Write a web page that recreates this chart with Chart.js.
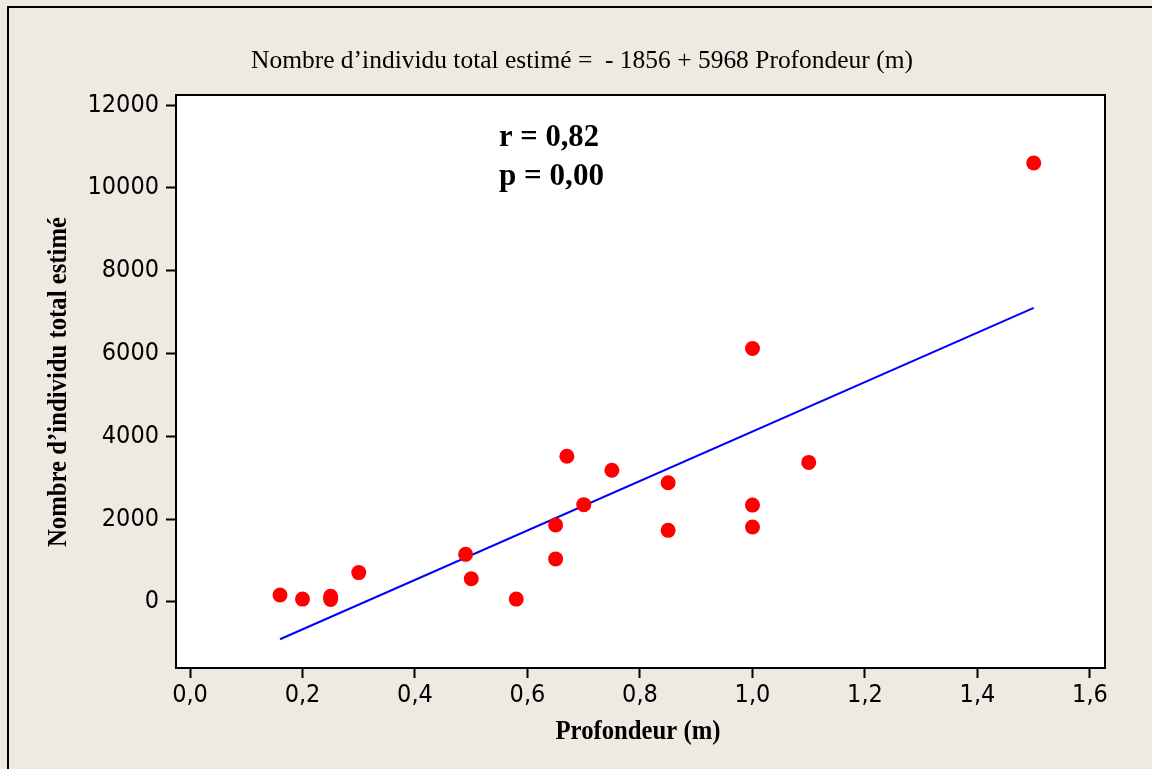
<!DOCTYPE html>
<html>
<head>
<meta charset="utf-8">
<script src="https://cdn.jsdelivr.net/npm/chart.js@4/dist/chart.umd.min.js"></script>
<style>
  html, body { margin: 0; padding: 0; background: #eeeae1; }
  canvas { display: block; }
</style>
</head>
<body>
<canvas id="chart" width="1152" height="769"></canvas>
<script>
// depth (m) vs estimated total individuals
const depth = [0.16, 0.2, 0.25, 0.25, 0.3, 0.49, 0.5, 0.58, 0.65, 0.65, 0.67, 0.7, 0.75, 0.85, 0.85, 1.0, 1.0, 1.0, 1.1, 1.5];
const total = [170, 70, 140, 60, 710, 1150, 560, 70, 1860, 1040, 3520, 2350, 3180, 2880, 1730, 6120, 2340, 1810, 3370, 10600];

// fitted line ends
const fitDepth = [0.16, 1.5];
const fitTotal = [-900, 7100];

const xTicks = [0, 0.2, 0.4, 0.6, 0.8, 1.0, 1.2, 1.4, 1.6];
const yTicks = [0, 2000, 4000, 6000, 8000, 10000, 12000];

const titleText = 'Nombre d’individu total estimé =  - 1856 + 5968 Profondeur (m)';
const xTitle = 'Profondeur (m)';
const yTitle = 'Nombre d’individu total estimé';
const statLines = ['r = 0,82', 'p = 0,00'];

const tickFont = { family: '"DejaVu Sans Condensed", "Liberation Sans", sans-serif', size: 25 };

const decorations = {
  id: 'decorations',
  beforeDraw(chart) {
    const { ctx, chartArea } = chart;
    ctx.save();
    ctx.fillStyle = '#eeeae1';
    ctx.fillRect(0, 0, chart.width, chart.height);
    // outer frame, top and left only
    ctx.fillStyle = '#000';
    ctx.fillRect(7, 6, chart.width - 7, 2);
    ctx.fillRect(7, 6, 2, chart.height - 6);
    ctx.fillStyle = '#fff';
    ctx.fillRect(chartArea.left, chartArea.top, chartArea.right - chartArea.left, chartArea.bottom - chartArea.top);
    ctx.restore();
  },
  afterDraw(chart) {
    const { ctx, chartArea } = chart;
    ctx.save();
    ctx.strokeStyle = '#000';
    ctx.lineWidth = 2;
    ctx.strokeRect(chartArea.left, chartArea.top, chartArea.right - chartArea.left, chartArea.bottom - chartArea.top);

    ctx.fillStyle = '#000';
    ctx.textBaseline = 'alphabetic';

    ctx.font = '26px "Liberation Serif", serif';
    ctx.textAlign = 'center';
    ctx.fillText(titleText, 582, 68, 662);

    ctx.font = 'bold 27px "Liberation Serif", serif';
    ctx.fillText(xTitle, 638, 739, 165);

    ctx.save();
    ctx.translate(66, 382);
    ctx.rotate(-Math.PI / 2);
    ctx.fillText(yTitle, 0, 0, 330);
    ctx.restore();

    ctx.font = 'bold 32px "Liberation Serif", serif';
    ctx.textAlign = 'left';
    ctx.fillText(statLines[0], 499, 146, 100);
    ctx.fillText(statLines[1], 499, 185, 105);
    ctx.restore();
  },
};

const points = depth.map((x, i) => ({ x, y: total[i] }));
const fitPoints = fitDepth.map((x, i) => ({ x, y: fitTotal[i] }));

new Chart(document.getElementById('chart'), {
  type: 'scatter',
  data: {
    datasets: [
      {
        data: points,
        pointRadius: 7.5,
        pointBackgroundColor: '#ff0000',
        pointBorderWidth: 0,
      },
      {
        data: fitPoints,
        showLine: true,
        pointRadius: 0,
        borderColor: '#0000ff',
        borderWidth: 2,
      },
    ],
  },
  options: {
    responsive: false,
    animation: false,
    devicePixelRatio: 1,
    layout: { padding: { top: 95, right: 47, left: 0, bottom: 0 } },
    plugins: { legend: { display: false }, tooltip: { enabled: false } },
    scales: {
      x: {
        type: 'linear',
        min: -0.0249,
        max: 1.6267,
        afterFit: (axis) => { axis.height = 101; },
        afterBuildTicks: (axis) => { axis.ticks = xTicks.map((value) => ({ value })); },
        ticks: {
          autoSkip: false,
          maxRotation: 0,
          color: '#000',
          font: tickFont,
          padding: 2,
          callback: (value) => value.toFixed(1).replace('.', ','),
        },
        grid: { drawOnChartArea: false, drawTicks: true, tickLength: 10, tickColor: '#000', tickWidth: 2 },
        border: { display: false },
      },
      y: {
        type: 'linear',
        min: -1594,
        max: 12242,
        afterFit: (axis) => { axis.width = 176; },
        afterBuildTicks: (axis) => { axis.ticks = yTicks.map((value) => ({ value })); },
        ticks: {
          autoSkip: false,
          color: '#000',
          font: tickFont,
          padding: 7,
          callback: (value) => String(value),
        },
        grid: { drawOnChartArea: false, drawTicks: true, tickLength: 10, tickColor: '#000', tickWidth: 2 },
        border: { display: false },
      },
    },
  },
  plugins: [decorations],
});
</script>
</body>
</html>
